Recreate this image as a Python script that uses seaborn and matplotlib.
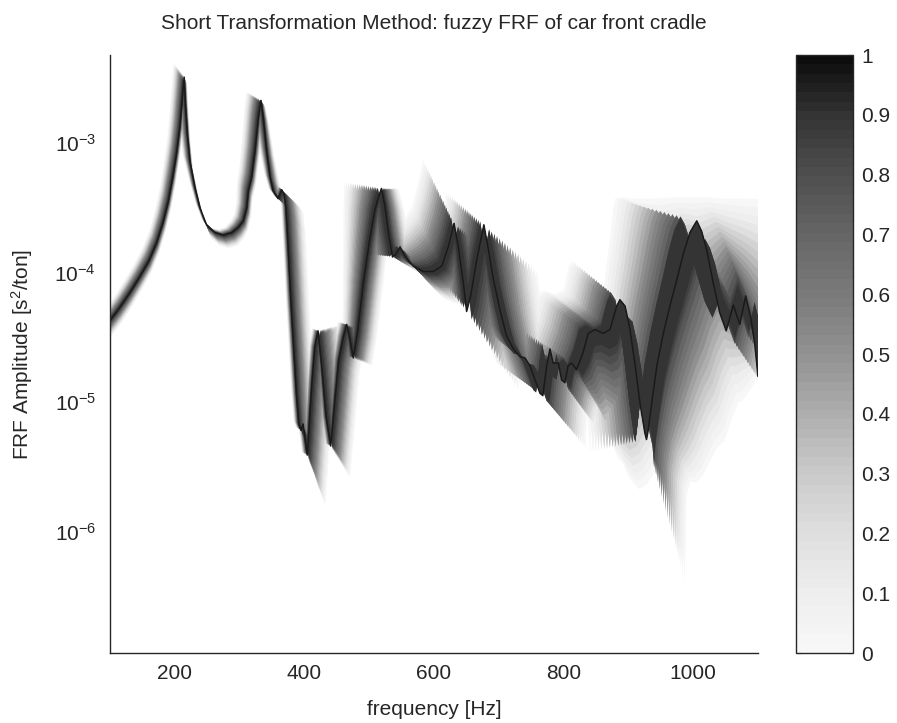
import numpy as np
import matplotlib
matplotlib.use("Agg")
import matplotlib.pyplot as plt
from matplotlib.collections import PolyCollection
from matplotlib.colors import ListedColormap, Normalize
from matplotlib.cm import ScalarMappable
import seaborn as sns

# ---- nominal (membership 1) FRF of the front cradle ----
freq_hz = [100, 115, 130, 145, 160, 172, 182, 190, 197, 203, 208, 212, 214.5,
           216.5, 219.5, 223.5, 231, 239, 249, 262, 275, 288, 298,
           305.8, 311, 313.5, 318.6, 323.8, 329, 333,
           336.6, 341.8, 347, 352, 359.7, 365, 368.5, 371.6,
           375, 379, 384, 388, 391.5, 395, 398, 404.5, 411.6, 416, 421, 426.6,
           433.6, 440.7, 446.9, 453, 460, 465.4, 470.5, 475.5,
           482, 491, 500, 508.6, 514, 519,
           524.4, 529.6, 536, 541, 547.6, 555, 568, 584, 599, 612, 622, 631,
           637.6, 645.3, 650.4, 656.6, 666, 677,
           684, 691.6, 702, 712, 722.5, 733, 740.5, 748, 756, 763.6, 768,
           774, 779, 784, 792, 797, 802, 807, 812.5,
           820, 830, 838, 848.5, 861, 871.6, 882, 887, 895, 902.5,
           910, 918, 925.5, 928, 930.5, 936, 944, 954, 964, 975, 985, 995, 1005.5,
           1013, 1020.7, 1031, 1041, 1051, 1062, 1072, 1081, 1089, 1095, 1100]
amp = [4.27e-5, 5.37e-5, 6.92e-5, 9.12e-5, 1.23e-4, 1.70e-4, 2.45e-4, 3.55e-4, 5.50e-4, 8.51e-4, 1.35e-3, 2.29e-3, 3.24e-3,
       2.00e-3, 1.17e-3, 7.24e-4, 4.57e-4, 3.16e-4, 2.34e-4, 2.04e-4, 1.95e-4, 2.04e-4, 2.24e-4,
       2.51e-4, 3.16e-4, 4.27e-4, 5.50e-4, 8.71e-4, 1.58e-3, 2.14e-3,
       1.58e-3, 8.71e-4, 5.50e-4, 4.27e-4, 3.72e-4, 4.37e-4, 4.07e-4, 3.16e-4,
       1.58e-4, 6.31e-5, 2.40e-5, 1.12e-5, 6.76e-6, 6.03e-6, 6.76e-6, 3.89e-6, 1.38e-5, 2.63e-5, 3.55e-5, 1.95e-5,
       7.76e-6, 4.57e-6, 1.00e-5, 2.09e-5, 3.16e-5, 3.98e-5, 3.02e-5, 2.19e-5,
       3.47e-5, 8.32e-5, 1.70e-4, 3.02e-4, 3.80e-4, 4.47e-4,
       3.24e-4, 2.04e-4, 1.32e-4, 1.38e-4, 1.58e-4, 1.35e-4, 1.12e-4, 1.02e-4, 1.02e-4, 1.12e-4, 1.58e-4, 2.40e-4,
       1.58e-4, 8.32e-5, 5.01e-5, 6.61e-5, 1.26e-4, 2.34e-4,
       1.51e-4, 8.91e-5, 5.13e-5, 3.24e-5, 2.57e-5, 2.24e-5, 2.19e-5, 1.91e-5, 1.48e-5, 1.17e-5, 1.12e-5,
       1.91e-5, 2.57e-5, 2.00e-5, 2.00e-5, 1.48e-5, 1.41e-5, 1.91e-5, 2.00e-5,
       1.78e-5, 2.40e-5, 3.39e-5, 3.63e-5, 3.39e-5, 3.63e-5, 5.50e-5, 6.17e-5, 5.50e-5, 3.63e-5,
       2.00e-5, 9.77e-6, 5.75e-6, 5.13e-6, 6.03e-6, 9.77e-6, 1.91e-5, 3.39e-5, 5.50e-5, 8.91e-5, 1.41e-4, 2.04e-4, 2.51e-4,
       2.09e-4, 1.51e-4, 8.32e-5, 4.90e-5, 3.55e-5, 5.62e-5, 3.98e-5, 6.61e-5, 4.47e-5, 2.82e-5, 1.58e-5]

# ---- alpha-cut bounds at membership 0 ----
# lower-frequency bound response: relative frequency shift and gain [decades]
shift_low = [.05, .05, .055, .055, .06, .06, .065, .065, .07, .07, .075, .075, .075,
             .07, .06, .05, .035, .03, .03, .03, .03, .035, .04,
             .045, .05, .055, .06, .062, .065, .066,
             .05, .035, .025, .02, .02, .02, .02, .02,
             .02, .02, .02, .02, .02, .02, .02, .02, .02, .02, .02, .02,
             .02, .02, .022, .024, .026, .028, .03, .036,
             .047, .063, .079, .094, .102, .11,
             .11, .105, .10, .095, .09, .085, .08, .078, .076, .075, .075, .075,
             .075, .075, .075, .078, .08, .085,
             .085, .085, .09, .09, .09, .09, .09, .09, .09, .09, .09,
             .09, .09, .09, .09, .09, .09, .09, .09,
             .095, .094, .093, .0925, .088, .082, .0839, .0823, .0838, .0848,
             .0868, .0893, .0924, .0938, .0951, .0972, .0996, .1027, .1058, .1097, .1137, .1186, .1248,
             .1273, .1281, .1222, .1114, .1009, .0866, .0718, .0564, .0404, .021, 0.0]
gain_low = [.10, .10, .10, .10, .10, .10, .10, .11, .11, .11, .11, .11, .11,
            .10, .08, .06, .05, .05, .05, .04, .04, .04, .045,
            .05, .055, .06, .06, .065, .065, .065,
            .05, .04, .03, .03, .03, .03, .03, .03,
            .03, .03, .03, .03, .03, .03, .03, .02, .02, .02, .02, .02,
            .02, .02, .02, .02, .02, .02, .02, .02,
            .0, .0, .01, .02, .03, .05,
            .03, .03, .03, .04, .05, .08, .15, .30, .40, .45, .48, .49,
            .40, .35, .30, .30, .30, .25,
            .25, .25, .25, .25, .25, .25, .25, .25, .25, .25, .25,
            .25, .25, .25, .25, .25, .25, .25, .25,
            .30, .30, .30, .30, .30, .30, .30, .30, .25, .20,
            .10, .0, -.05, -.10, -.05, .0, .10, .12, .14, .16, .17, .17, .17,
            .26, .40, .65, .88, 1.02, .83, .98, .76, .92, 1.12, 1.37]
# higher-frequency bound response: relative frequency shift and loss [decades]
shift_high = [.02, .02, .02, .02, .02, .02, .02, .02, .02, .02, .02, .02, .02,
              .02, .02, .02, .025, .025, .03, .03, .03, .03, .025,
              .02, .02, .02, .02, .02, .02, .02,
              .025, .035, .045, .055, .065, .075, .08, .08,
              .08, .08, .08, .075, .072, .07, .07, .068, .075, .08, .085, .085,
              .08, .067, .07, .07, .07, .07, .065, .06,
              .06, .06, .055, .05, .05, .05,
              .055, .06, .065, .07, .075, .08, .085, .09, .09, .09, .09, .10,
              .11, .12, .12, .12, .12, .12,
              .12, .12, .12, .12, .12, .12, .12, .11, .10, .09, .085,
              .08, .075, .07, .065, .0636, .0636, .0636, .0636,
              .0636, .0636, .0636, .0636, .0636, .0636, .0636, .0636, .0636, .0636,
              .0636, .0636, .0636, .0636, .0636, .0636, .0636, .0636, .0636, .0636, .0636, .0636, .0636,
              .0636, .0636, .0636, .0636, .0636, .0636, .0636, .0636, .0636, .0636, .0636]
loss_high = [.12, .12, .11, .10, .09, .08, .07, .06, .06, .05, .05, .05, .05,
             .05, .06, .07, .08, .09, .10, .10, .10, .10, .09,
             .08, .07, .06, .06, .05, .05, .05,
             .05, .06, .08, .10, .12, .13, .15, .18,
             .22, .25, .28, .30, .32, .34, .36, .39, .20, .05, -.05, .05,
             .15, .25, .15, .10, .08, .06, .06, .06,
             .06, .05, .05, .05, .03, .0,
             .02, .05, .10, .15, .20, .25, .25, .25, .25, .25, .25, .25,
             .35, .45, .60, .60, .50, .35,
             .45, .50, .55, .55, .55, .55, .55, .50, .45, .40, .40,
             .40, .40, .40, .40, .35, .35, .40, .40,
             .45, .80, 1.0, 1.15, 1.2, 1.2, 1.3, 1.3, 1.2, 1.1,
             1.0, .8, .5, 1.1, .5, .6, .9, 1.1, 1.2, 1.3, 1.45, 1.45, 1.4,
             1.3, 1.1, .75, .5, .5, .5, .5, .5, .5, .5, .5]
# smallest part of the frequency spread, kept by the upper alpha-cuts
core_spread = [
    .03, .03, .03, .03, .03, .03, .03, .03, .03, .03, .03, .03, .03,
    .03, .03, .03, .03, .03, .03, .03, .03, .03, .03,
    .03, .03, .03, .03, .03, .03, .03,
    .03, .03, .03, .03, .03, .03, .03, .03,
    .03, .03, .03, .03, .03, .03, .03, .03, .03, .03, .03, .03,
    .03, .03, .03, .03, .03, .03, .03, .03,
    .03, .03, .03, .03, .03, .03,
    .03, .03, .03, .04, .05, .06, .07, .08, .09, .10, .10, .10,
    .10, .10, .10, .10, .10, .10,
    .11, .12, .13, .14, .15, .15, .15, .15, .15, .15, .15,
    .16, .17, .18, .18, .18, .18, .18, .18,
    .18, .18, .18, .18, .18, .19, .20, .20, .20, .20,
    .20, .20, .20, .20, .20, .20, .20, .20, .20, .20, .20, .20, .20,
    .20, .20, .20, .20, .20, .20, .20, .20, .20, .20, .20]

# ---- membership levels of the alpha-cuts ----
alpha_levels = [0.0, 0.05, 0.1, 0.15, 0.2, 0.25, 0.3, 0.35, 0.4, 0.45,
                0.5, 0.55, 0.6, 0.65, 0.7, 0.75, 0.8, 0.85, 0.9]
shift_scale = [1.0, .95, .9, .85, .8, .75, .7, .65, .6, .55,
               .5, .45, .4, .35, .3, .25, .2, .15, .1]
gain_scale = [1.0, .95, .9, .85, .8, .75, .7, .65, .6, .55,
              .5, .45, .4, .35, .3, .25, .2, .15, .1]

cbar_ticks = [0, 0.1, 0.2, 0.3, 0.4, 0.5, 0.6, 0.7, 0.8, 0.9, 1]
cbar_labels = ["0", "0.1", "0.2", "0.3", "0.4", "0.5", "0.6", "0.7", "0.8", "0.9", "1"]

# grey ramp used for the membership scale (64 steps)
ramp_pos = [0.0, 0.1, 0.2, 0.3, 0.4, 0.5, 0.6, 0.7, 0.8, 0.9, 1.0]
ramp_grey = [0.97, 0.93, 0.87, 0.79, 0.68, 0.57, 0.48, 0.40, 0.31, 0.21, 0.05]
steps = np.linspace(0, 1, 64)
grey = np.interp(steps, ramp_pos, ramp_grey)
cmap = ListedColormap(np.column_stack([grey, grey, grey]))
norm = Normalize(0, 1)

sns.set_theme(style="white")
plt.rcParams["font.family"] = ["Liberation Sans", "DejaVu Sans"]
plt.rcParams["mathtext.fontset"] = "custom"
plt.rcParams["mathtext.rm"] = "Liberation Sans"
plt.rcParams["mathtext.it"] = "Liberation Sans:italic"

FS = 15
INK = "#262626"

fig = plt.figure(figsize=(8.97, 7.23), dpi=100)
ax = fig.add_axes([0.1226, 0.0968, 0.7224, 0.8271])
cax = fig.add_axes([0.8874, 0.0968, 0.0635, 0.8271])

ax.set_yscale("log")
ax.set_xlim(100, 1100)
ax.set_ylim(1.15e-7, 4.8e-3)

f = np.asarray(freq_hz, float)
lg = np.log10(np.asarray(amp, float))
lo = np.asarray(shift_low); up = np.asarray(gain_low)
hi = np.asarray(shift_high); dn = np.asarray(loss_high)
core = np.asarray(core_spread)
nominal = np.column_stack([f, 10 ** lg])

# each alpha-cut: region spanned by the nominal, lower- and higher-frequency bound responses
for a, w, v in zip(alpha_levels, shift_scale, gain_scale):
    wf = np.maximum(core, w)
    left = np.column_stack([f * (1 - lo * wf), 10 ** (lg + up * v)])
    right = np.column_stack([f * (1 + hi * wf), 10 ** (lg - dn * v)])
    polys = [np.vstack([p, q[::-1]]) for p, q in ((left, nominal), (nominal, right), (left, right))]
    pc = PolyCollection(polys, facecolors=[cmap(norm(a))], edgecolors="none",
                        linewidths=0, antialiased=True)
    ax.add_collection(pc)

sns.lineplot(x=freq_hz, y=amp, ax=ax, color="#1a1a1a", lw=1.1, sort=False,
             estimator=None)

ax.set_xticks([200, 400, 600, 800, 1000])
ax.set_yticks([1e-6, 1e-5, 1e-4, 1e-3])
ax.minorticks_off()
for s in ("top", "right"):
    ax.spines[s].set_visible(False)
for s in ("left", "bottom"):
    ax.spines[s].set_color(INK)
    ax.spines[s].set_linewidth(1.0)
ax.tick_params(axis="x", direction="in", length=5, width=0.8, colors=INK,
               labelsize=FS, pad=8, labelcolor=INK)
ax.tick_params(axis="y", direction="in", length=5, width=0.8, colors=INK,
               labelsize=FS, pad=10, labelcolor=INK)
ax.set_xlabel("frequency [Hz]", fontsize=FS, color=INK, labelpad=12)
ax.set_ylabel("FRF Amplitude [s$^{2}$/ton]", fontsize=FS, color=INK, labelpad=14)
ax.set_title("Short Transformation Method: fuzzy FRF of car front cradle",
             fontsize=FS, color=INK, pad=19)

sm = ScalarMappable(norm=norm, cmap=cmap)
cb = fig.colorbar(sm, cax=cax, ticks=cbar_ticks)
cb.ax.set_yticklabels(cbar_labels)
cb.outline.set_edgecolor(INK)
cb.outline.set_linewidth(1.0)
cax.tick_params(direction="in", length=4, width=0.8, left=True, right=True,
                labelleft=False, labelright=True, labelsize=FS, colors=INK, pad=6)

fig.savefig("out.png", dpi=100)
